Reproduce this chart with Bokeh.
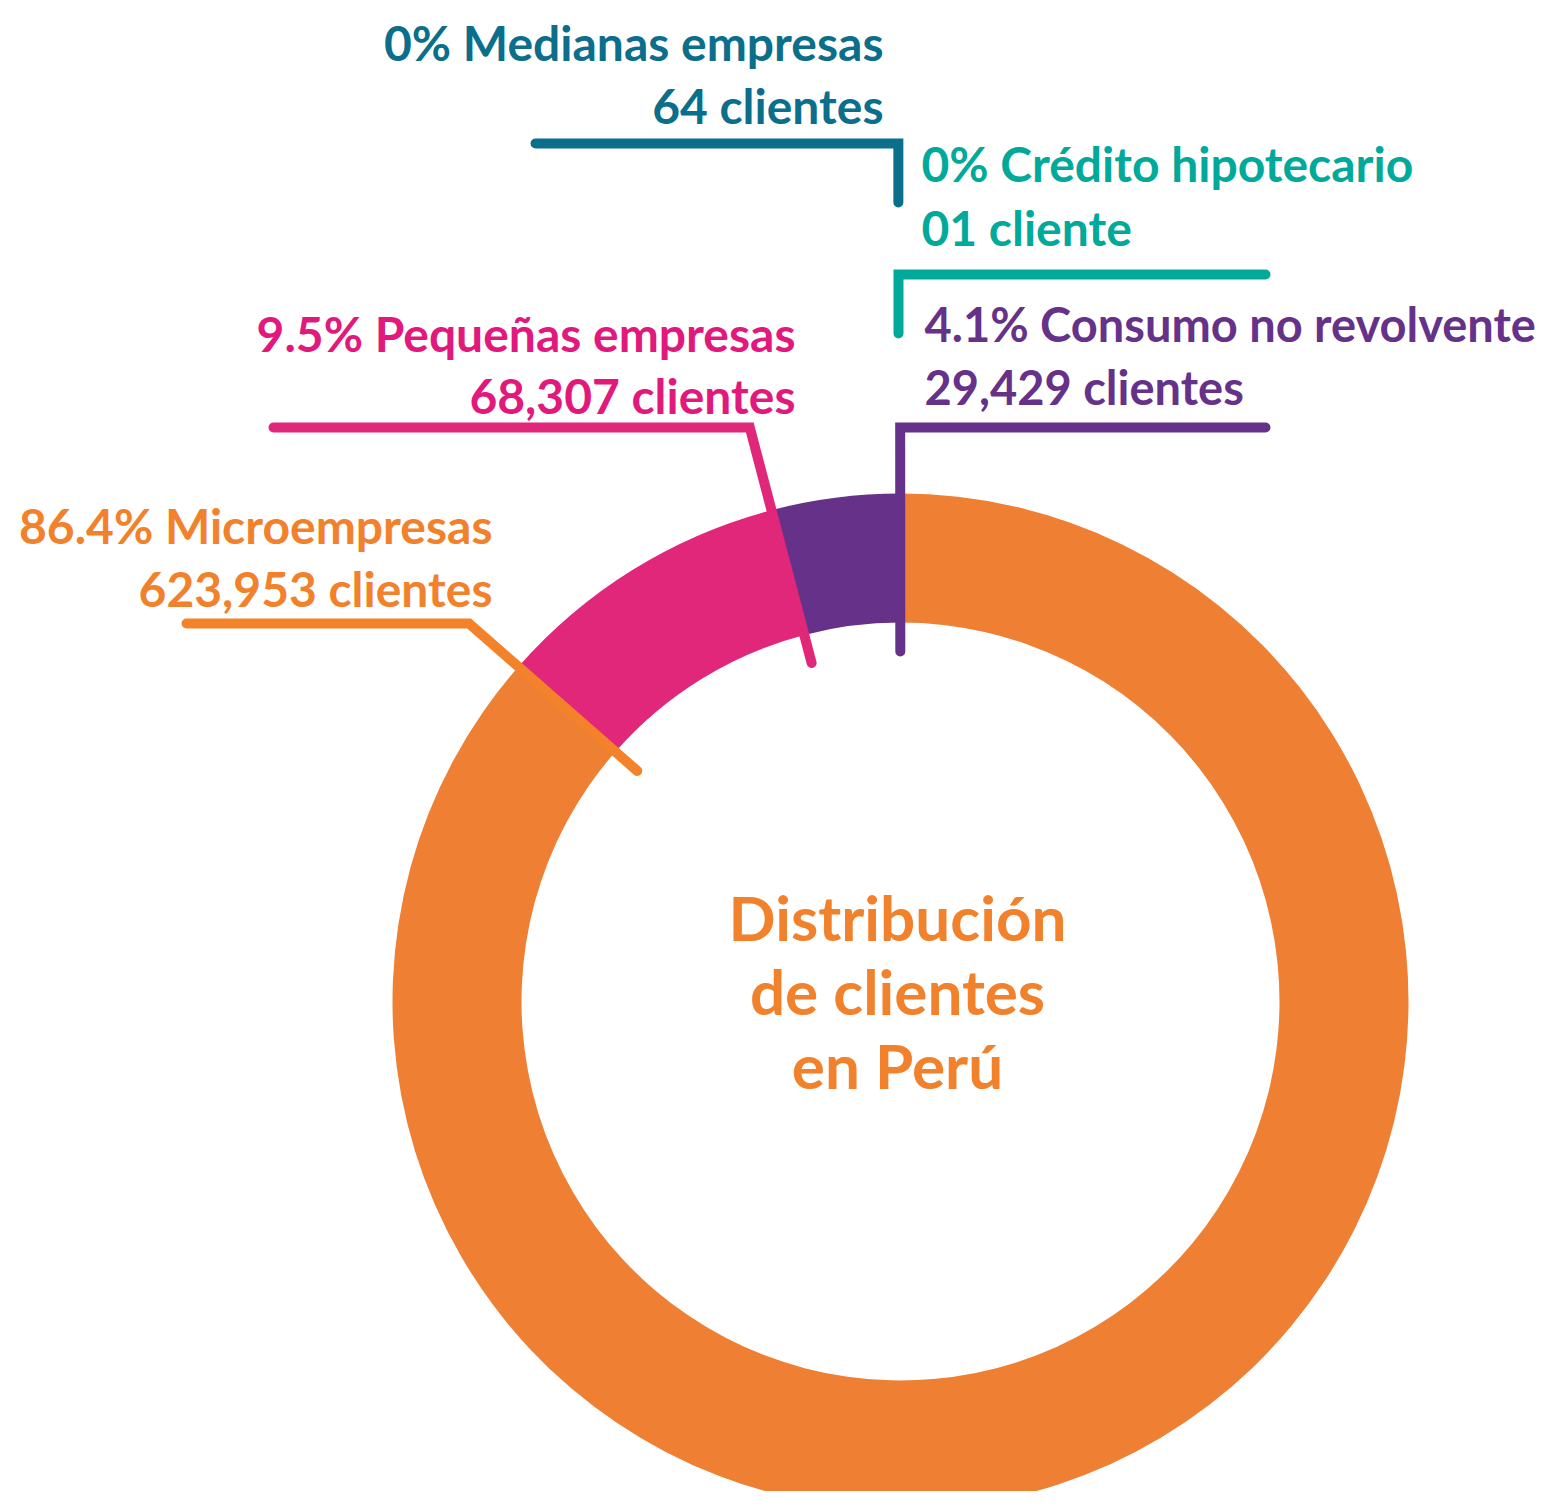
import numpy as np
from bokeh.plotting import figure
from bokeh.models import Range1d
from bokeh.core.properties import value
from bokeh.embed import file_html
from bokeh.resources import INLINE

# ---------------- data ----------------
categories = ["Crédito hipotecario", "Medianas empresas", "Consumo no revolvente",
              "Pequeñas empresas", "Microempresas"]
clients = [1, 64, 29429, 68307, 623953]
pct_labels = ["0%", "0%", "4.1%", "9.5%", "86.4%"]
client_labels = ["01 cliente", "64 clientes", "29,429 clientes", "68,307 clientes", "623,953 clientes"]
title_lines = ["Distribución", "de clientes", "en Perú"]

# ---------------- styles / layout ----------------
ring_colors = ["#00A99A", "#0B6E8B", "#663289", "#E0277A", "#EE7F33"]
text_colors = ["#00A99A", "#0B6E8B", "#663289", "#E2197C", "#F2812C"]
FONT = "Lato"
TITLE_FS = 62
BASE_FIX = 0.40                 # baseline correction (em) for the svg text layout
W, H = 1543, 1491
CX, CY = 900.0, 1001.0          # donut centre in picture pixels
R_OUT, R_IN, R_TIP = 508.0, 379.0, 350.0


def sx(x):
    return x - CX


def sy(y):
    return CY - y


p = figure(width=W, height=H, output_backend="svg", toolbar_location=None,
           x_range=Range1d(-CX, W - CX), y_range=Range1d(CY - H, CY),
           x_axis_location=None, y_axis_location=None, min_border=0)
p.grid.visible = False
p.outline_line_color = None
p.background_fill_color = "white"
p.border_fill_color = "white"

# ---------------- wedges from data ----------------
vals = np.array(clients, dtype=float)
frac = vals / vals.sum()
ends = np.pi / 2 + 2 * np.pi * np.cumsum(frac)
starts = np.concatenate([[np.pi / 2], ends[:-1]])
p.annular_wedge(x=0, y=0, inner_radius=R_IN, outer_radius=R_OUT,
                start_angle=list(starts), end_angle=list(ends),
                fill_color=ring_colors, line_color=None, direction="anticlock")

# ---------------- leader lines ----------------
def radial_pts(theta, y_h):
    """joint on the horizontal line y_h (picture px) and tip at R_TIP along angle theta"""
    yd = sy(y_h)
    r = yd / np.sin(theta)
    return (r * np.cos(theta), yd), (R_TIP * np.cos(theta), R_TIP * np.sin(theta))


def draw(pts, color):
    p.line([q[0] for q in pts], [q[1] for q in pts], line_color=color, line_width=10,
           line_cap="round", line_join="miter")


# Medianas (index 1) and Crédito (index 0): tiny slices at the top
xm = R_OUT * np.cos((starts[1] + ends[1]) / 2)
xc = R_OUT * np.cos((starts[0] + ends[0]) / 2)
draw([(sx(535), sy(143)), (xm - 2, sy(143)), (xm - 2, sy(202))], ring_colors[1])
draw([(xc - 2, sy(333)), (xc - 2, sy(274)), (sx(1265), sy(274))], ring_colors[0])

# Consumo (2), Pequeñas (3), Micro (4): along the start boundary of each slice
horiz = {2: (1265, 427), 3: (273, 427), 4: (186, 623)}
line_cols = {2: ring_colors[2], 3: ring_colors[3], 4: "#F3822A"}
for i, (hx, hy) in horiz.items():
    j, t = radial_pts(starts[i], hy)
    draw([(sx(hx), sy(hy)), j, t], line_cols[i])

# ---------------- labels ----------------
lab = {  # x, align, baseline1, baseline2 (picture px), font size
    1: (883, "right", 61, 124, 48),
    0: (921, "left", 182, 246, 48),
    2: (924, "left", 342, 405, 47),
    3: (795, "right", 352, 414, 48),
    4: (492, "right", 544, 607, 48),
}
for i, (lx, al, b1, b2, fs) in lab.items():
    p.text(x=[sx(lx), sx(lx)], y=[sy(b1) + BASE_FIX * fs, sy(b2) + BASE_FIX * fs],
           text=[f"{pct_labels[i]} {categories[i]}", client_labels[i]],
           text_align=al, text_baseline="alphabetic", text_color=text_colors[i],
           text_font=value(FONT), text_font_style="bold", text_font_size=value(f"{fs}px"))

# ---------------- centre title ----------------
p.text(x=[sx(897)] * 3, y=[sy(b) + BASE_FIX * TITLE_FS for b in (941, 1015, 1089)],
       text=title_lines,
       text_align="center", text_baseline="alphabetic", text_color="#F2812C",
       text_font=value(FONT), text_font_style="bold", text_font_size=value(f"{TITLE_FS}px"))

open("out.html", "w").write(file_html(p, INLINE))
